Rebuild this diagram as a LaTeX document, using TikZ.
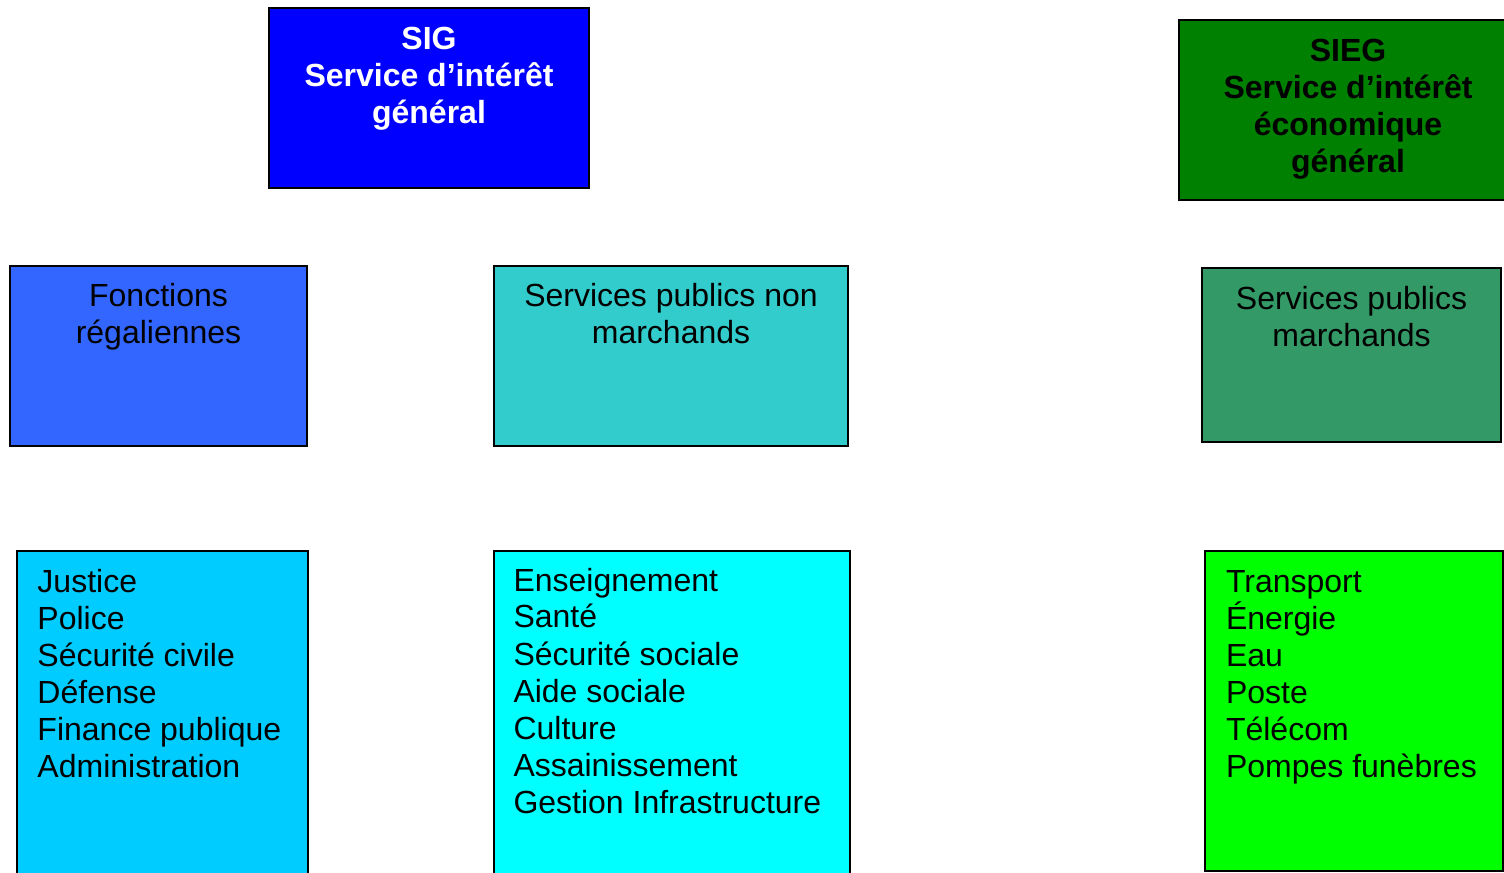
\documentclass[tikz,border=0pt]{standalone}
\usepackage{fontspec}
\setmainfont{Liberation Sans}

\definecolor{sigblue}{RGB}{0,0,255}
\definecolor{sieggreen}{RGB}{0,128,0}
\definecolor{foncblue}{RGB}{51,102,255}
\definecolor{spnmteal}{RGB}{51,204,204}
\definecolor{spmgreen}{RGB}{51,153,102}
\definecolor{jusblue}{RGB}{0,204,255}
\definecolor{enscyan}{RGB}{0,255,255}
\definecolor{translime}{RGB}{0,255,0}

\tikzset{every picture/.style={line width=0.75pt}}
\tikzset{
  box/.style={draw=black, line width=1.5pt},
  txt/.style={inner sep=0pt, font=\fontsize{24}{28}\selectfont},
  head/.style={txt, anchor=base},
  item/.style={txt, anchor=base west}
}

\begin{document}
\begin{tikzpicture}[x=0.75pt,y=0.75pt,yscale=-1,xscale=1]
	\useasboundingbox (0,0) rectangle (1504,873);
	\clip (0,0) rectangle (1504,873);
	
	%Shape: Rectangle [id:sig] 
	\draw [box, fill=sigblue]  (269,8) rectangle (589,188) ;
	%Shape: Rectangle [id:sieg] 
	\draw [box, fill=sieggreen]  (1179,20) rectangle (1520,200) ;
	%Shape: Rectangle [id:fonc] 
	\draw [box, fill=foncblue]  (10,266) rectangle (307,446) ;
	%Shape: Rectangle [id:spnm] 
	\draw [box, fill=spnmteal]  (494,266) rectangle (848,446) ;
	%Shape: Rectangle [id:spm] 
	\draw [box, fill=spmgreen]  (1202,268) rectangle (1501,442) ;
	%Shape: Rectangle [id:jus] 
	\draw [box, fill=jusblue]  (17,551) rectangle (308,890) ;
	%Shape: Rectangle [id:ens] 
	\draw [box, fill=enscyan]  (494,551) rectangle (850,890) ;
	%Shape: Rectangle [id:trans] 
	\draw [box, fill=translime]  (1205,551) rectangle (1503,871) ;
	
	%Text: SIG
	\foreach \t [count=\i] in {SIG, Service d’intérêt, général}
		\node [head, text=white, font=\fontsize{24}{28}\selectfont\bfseries] (sig-\i) at (429,13+37*\i) {\t};
	%Text: SIEG
	\foreach \t [count=\i] in {SIEG, Service d’intérêt, économique, général}
		\node [head, font=\fontsize{24}{28}\selectfont\bfseries] (sieg-\i) at (1348,25+37*\i) {\t};
	%Text: level two
	\foreach \t [count=\i] in {Fonctions, régaliennes}
		\node [head] (fonc-\i) at (158.5,270+37*\i) {\t};
	\foreach \t [count=\i] in {Services publics non, marchands}
		\node [head] (spnm-\i) at (671,270+37*\i) {\t};
	\foreach \t [count=\i] in {Services publics, marchands}
		\node [head] (spm-\i) at (1351.5,273+37*\i) {\t};
	%Text: lists
	\foreach \t [count=\i] in {Justice, Police, Sécurité civile, Défense, Finance publique, Administration}
		\node [item] (jus-\i) at (37,555+37*\i) {\t};
	\foreach \t [count=\i] in {Enseignement, Santé, Sécurité sociale, Aide sociale, Culture, Assainissement, Gestion Infrastructure}
		\node [item] (ens-\i) at (513,554+37*\i) {\t};
	\foreach \t [count=\i] in {Transport, Énergie, Eau, Poste, Télécom, Pompes funèbres}
		\node [item] (trans-\i) at (1225.5,555+37*\i) {\t};
	
\end{tikzpicture}
\end{document}
